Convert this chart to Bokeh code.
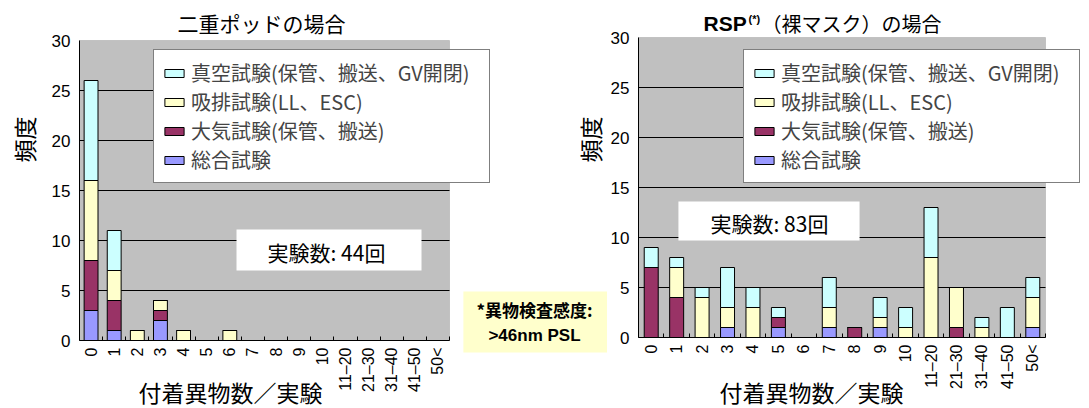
import math
from bokeh.plotting import figure
from bokeh.models import (Range1d, Legend, LegendItem, Label, BoxAnnotation,
                          FixedTicker, ColumnDataSource)
from bokeh.layouts import row
from bokeh.embed import file_html
from bokeh.resources import INLINE

# ---------------- data ----------------
categories = ["0", "1", "2", "3", "4", "5", "6", "7", "8", "9", "10",
              "11–20", "21–30", "31–40", "41–50", "50<"]

series_names = ["総合試験", "大気試験(保管、搬送)", "吸排試験(LL、ESC)",
                "真空試験(保管、搬送、GV開閉)"]
series_colors = ["#9999FF", "#993366", "#FFFFCC", "#CCFFFF"]

# 二重ポッドの場合
pod_sougou = [3, 1, 0, 2, 0, 0, 0, 0, 0, 0, 0, 0, 0, 0, 0, 0]
pod_taiki = [5, 3, 0, 1, 0, 0, 0, 0, 0, 0, 0, 0, 0, 0, 0, 0]
pod_kyuhai = [8, 3, 1, 1, 1, 0, 1, 0, 0, 0, 0, 0, 0, 0, 0, 0]
pod_shinku = [10, 4, 0, 0, 0, 0, 0, 0, 0, 0, 0, 0, 0, 0, 0, 0]

# RSP(裸マスク)の場合
rsp_sougou = [0, 0, 0, 1, 0, 1, 0, 1, 0, 1, 0, 0, 0, 0, 0, 1]
rsp_taiki = [7, 4, 0, 0, 0, 1, 0, 0, 1, 0, 0, 0, 1, 0, 0, 0]
rsp_kyuhai = [0, 3, 4, 2, 3, 0, 0, 2, 0, 1, 1, 8, 4, 1, 0, 3]
rsp_shinku = [2, 1, 1, 4, 2, 1, 0, 3, 0, 2, 2, 5, 0, 1, 3, 2]

y_ticks = [0, 5, 10, 15, 20, 25, 30]

CJK = "Noto Sans CJK JP"
LAT = "Liberation Sans"
H = 408
N = len(categories)
xpos = list(range(N))
x_lo, x_hi = -0.5, N - 0.5


def make_fig(width, plot_left, plot_w, zero_y):
    ppu = plot_w / N
    xs = x_lo - plot_left / ppu
    xe = xs + width / ppu
    ys = -(H - zero_y) / 10.0
    ye = zero_y / 10.0
    p = figure(x_range=Range1d(xs, xe), y_range=Range1d(ys, ye),
               width=width, height=H, min_border=0, min_border_left=0,
               min_border_right=0, min_border_top=0, min_border_bottom=0,
               toolbar_location=None, output_backend="svg", title=None)
    p.background_fill_color = "white"
    p.border_fill_color = "white"
    p.outline_line_color = None
    p.xgrid.visible = False
    p.ygrid.visible = False
    # plot area
    p.add_layout(BoxAnnotation(left=x_lo, right=x_hi, bottom=0, top=30,
                               fill_color="#C0C0C0", fill_alpha=1.0,
                               line_color="#808080", line_width=1,
                               level="underlay"))
    # horizontal grid lines from the tick list
    p.segment(x0=x_lo, x1=x_hi, y0=y_ticks[1:-1], y1=y_ticks[1:-1],
              line_color="black", line_width=1)
    xa = p.xaxis[0]
    ya = p.yaxis[0]
    xa.fixed_location = 0
    ya.fixed_location = x_lo
    xa.bounds = (x_lo, x_hi)
    ya.bounds = (0, 30)
    xa.ticker = FixedTicker(ticks=xpos,
                            minor_ticks=[i - 0.5 for i in range(N + 1)])
    xa.major_label_overrides = {i: c for i, c in enumerate(categories)}
    ya.ticker = FixedTicker(ticks=y_ticks)
    for ax in (xa, ya):
        ax.major_tick_line_color = None
        ax.major_tick_in = 0
        ax.major_tick_out = 0
        ax.axis_line_color = "black"
        ax.major_label_text_font = LAT
        ax.major_label_text_color = "black"
    ya.minor_tick_line_color = None
    xa.minor_tick_line_color = "black"
    xa.minor_tick_in = 4
    xa.minor_tick_out = 0
    xa.major_label_orientation = math.pi / 2
    xa.major_label_text_font_size = "16px"
    xa.major_label_standoff = 7
    ya.major_label_text_font_size = "17px"
    ya.major_label_standoff = 9
    return p


def add_bars(p, vals, bar_width, leg_x, leg_y):
    src = ColumnDataSource(dict(x=xpos, s0=vals[0], s1=vals[1],
                                s2=vals[2], s3=vals[3]))
    rs = p.vbar_stack(["s0", "s1", "s2", "s3"], x="x", width=bar_width,
                      fill_color=series_colors, line_color="black",
                      line_width=1, source=src)
    items = [LegendItem(label=series_names[i], renderers=[rs[i]])
             for i in reversed(range(4))]
    leg = Legend(items=items, location=(leg_x, leg_y), orientation="vertical",
                 padding=8, spacing=0, margin=0, label_height=29,
                 glyph_width=24, glyph_height=10, label_standoff=5,
                 label_width=290, label_text_font=CJK,
                 label_text_font_size="20px", border_line_color="black",
                 border_line_width=1, background_fill_color="white",
                 background_fill_alpha=1.0)
    p.add_layout(leg)


def txt(p, x, y, text, size, font=CJK, style="normal", align="center",
        angle=0, units="screen", **kw):
    p.add_layout(Label(x=x, y=y, x_units=units, y_units=units, text=text,
                       text_font=font, text_font_size=size,
                       text_font_style=style, text_align=align,
                       text_baseline="middle", text_color="black",
                       angle=angle, **kw))


# ---------------- left chart (canvas x 0..607) ----------------
p1 = make_fig(607, 79, 370, 340)
add_bars(p1, [pod_sougou, pod_taiki, pod_kyuhai, pod_shinku], 0.6,
         153, H - 183)
p1.add_layout(BoxAnnotation(left=6.29, right=14.29, bottom=7.0, top=11.1,
                            fill_color="white", fill_alpha=1.0,
                            line_color=None))
txt(p1, 326, H - 251, "実験数: 44回", "21px")
txt(p1, 261, H - 22, "二重ポッドの場合", "21px")
txt(p1, 23, H - 139, "頻度", "23px", angle=math.pi / 2)
txt(p1, 230, H - 391, "付着異物数／実験", "23px")
# y-axis title of the right chart
txt(p1, 589, H - 139, "頻度", "23px", angle=math.pi / 2)
# note box
p1.add_layout(BoxAnnotation(left=16.1, right=22.37, bottom=-1.2, top=4.9,
                            fill_color="#FFFFCC", fill_alpha=1.0,
                            line_color=None))
txt(p1, 534, H - 309, "*異物検査感度:", "17px", style="bold")
txt(p1, 534, H - 335, ">46nm PSL", "17px", font=LAT, style="bold")

# ---------------- right chart (canvas x 607..1089) ----------------
p2 = make_fig(482, 31, 407, 337)
add_bars(p2, [rsp_sougou, rsp_taiki, rsp_kyuhai, rsp_shinku], 0.55,
         136, H - 183)
p2.add_layout(BoxAnnotation(left=1.07, right=8.19, bottom=9.7, top=13.6,
                            fill_color="white", fill_alpha=1.0,
                            line_color=None))
txt(p2, 162, H - 222, "実験数: 83回", "21px")
txt(p2, 96, H - 23, "RSP", "21px", font=LAT, style="bold", align="left")
txt(p2, 141, H - 18, "(*)", "11px", font=LAT, style="bold", align="left")
txt(p2, 154, H - 23, "（裸マスク）の場合", "20px", align="left")
txt(p2, 204, H - 391, "付着異物数／実験", "23px")

layout = row(p1, p2)
open("out.html", "w").write(file_html(layout, INLINE))
